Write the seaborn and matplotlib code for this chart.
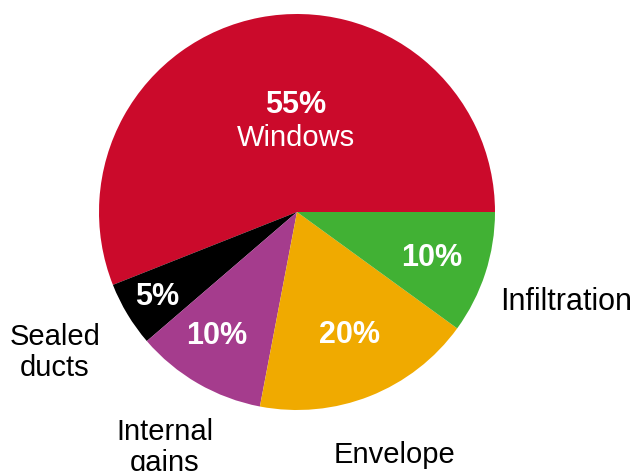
import matplotlib.pyplot as plt
import seaborn as sns

sns.set_theme(style='white')
plt.rcParams['font.family'] = ['Liberation Sans', 'DejaVu Sans']

CATEGORIES = ['Windows', 'Sealed ducts', 'Internal gains', 'Envelope', 'Infiltration']
LABEL_PCT = [55, 5, 10, 20, 10]
WEDGE_SIZE = [56, 5.3, 10.7, 18, 10]
COLORS = ['#CB0A2B', '#000000', '#A53C8D', '#F0AA00', '#41B134']

# text spots in pixels from top-left (x center, y baseline)
PCT_POS = [(296, 113), (157, 305), (217, 344), (350, 343), (432, 266)]
NAME_LINES = [['Windows'], ['Sealed', 'ducts'], ['Internal', 'gains'], ['Envelope'], ['Infiltration']]
NAME_POS = [(296, 146), (55, 345), (165, 440), (394, 463), (566, 310)]
LINE_STEP = 31
W, H = 638, 471

fig = plt.figure(figsize=(6.38, 4.71), dpi=100)
ax = fig.add_axes([0, 0, 1, 1])

palette = sns.color_palette(COLORS)
ax.pie(WEDGE_SIZE, colors=palette, startangle=0, counterclock=True,
       center=(297, H - 212), radius=198, frame=True,
       wedgeprops=dict(linewidth=0))
ax.set_xlim(0, W)
ax.set_ylim(0, H)
ax.set_aspect('equal')
ax.axis('off')

for i, pct in enumerate(LABEL_PCT):
    x, y = PCT_POS[i]
    ax.text(x, H - y, f'{pct}%', color='white', fontsize=22, fontweight='bold',
            ha='center', va='baseline')
    nx, ny = NAME_POS[i]
    size = 22 if CATEGORIES[i] == 'Infiltration' else 21
    for j, line in enumerate(NAME_LINES[i]):
        ax.text(nx, H - (ny + j * LINE_STEP), line, color='white' if i == 0 else 'black',
                fontsize=size, ha='center', va='baseline')

fig.savefig('out.png', dpi=100)
